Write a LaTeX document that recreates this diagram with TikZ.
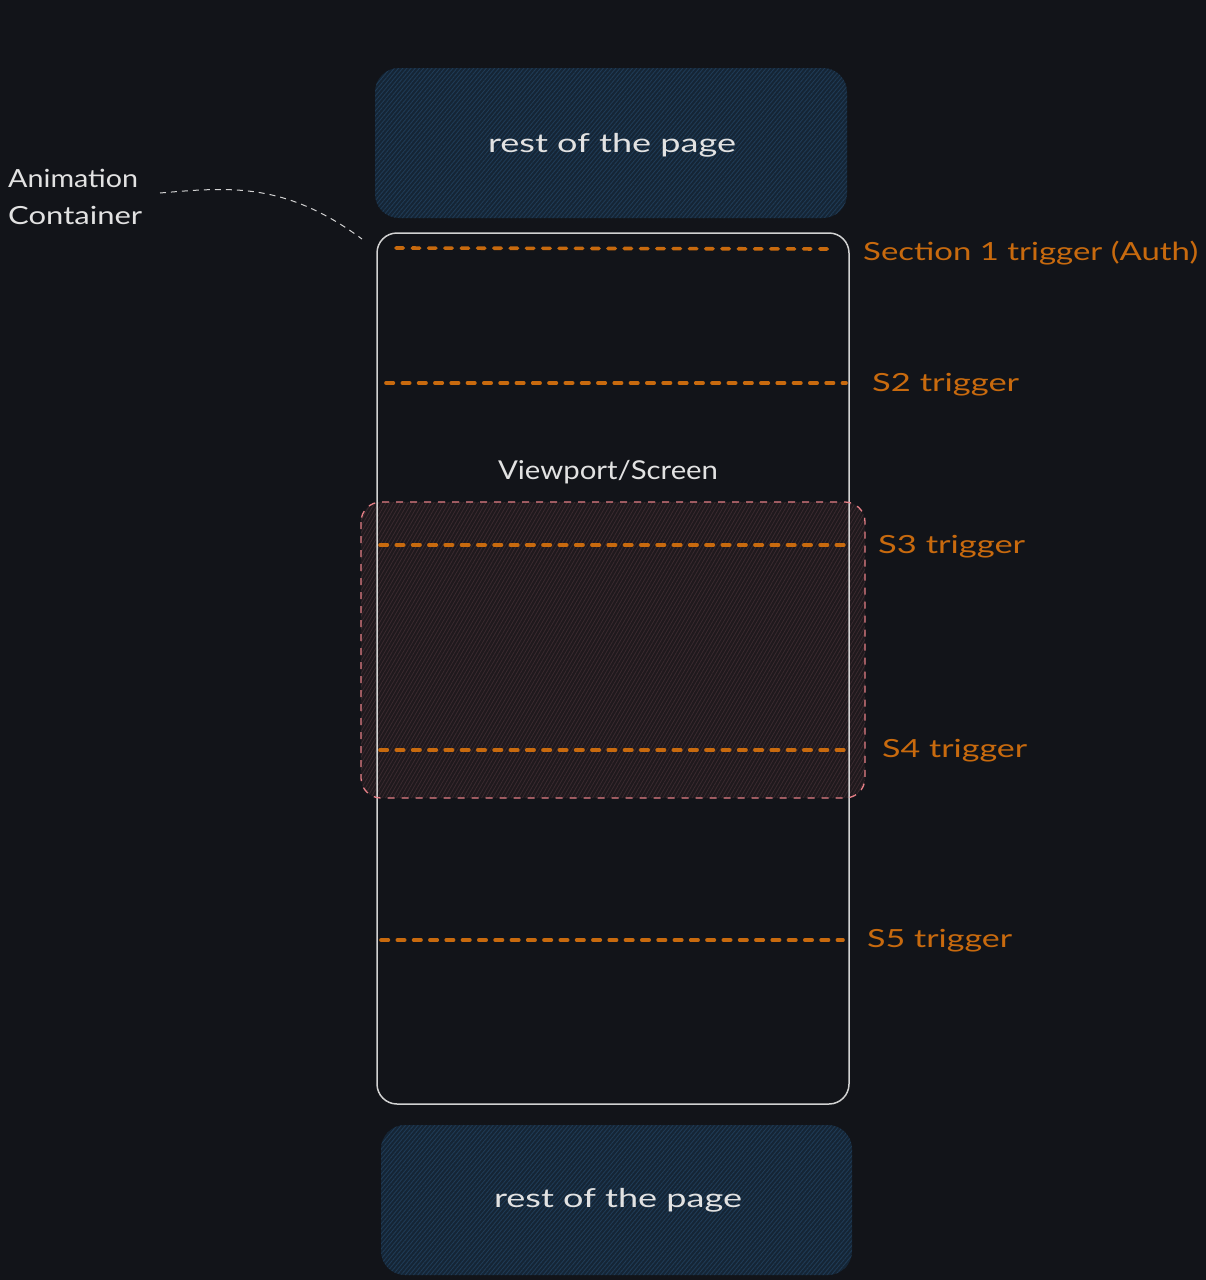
\documentclass[tikz,border=0pt]{standalone}
\usepackage{fontspec}
\setmainfont{Lato}
\usetikzlibrary{patterns.meta}
\definecolor{bg}{HTML}{121419}
\definecolor{bluefill}{HTML}{152535}
\definecolor{bluehatch}{HTML}{1F3B56}
\definecolor{redfill}{HTML}{1F191D}
\definecolor{redhatch}{HTML}{3A2A2F}
\definecolor{redline}{HTML}{E57F86}
\definecolor{orange}{HTML}{C86A0E}
\definecolor{ink}{HTML}{E2E2E2}
\definecolor{frame}{HTML}{D2D2D2}
\newcommand{\wtext}[2]{\resizebox{#1}{\height}{#2}}
\tikzset{
  pagebox/.style={draw=none, fill=bluefill, rounded corners=24pt,
    postaction={pattern={Lines[angle=50,distance=3.2pt,line width=0.9pt]}, pattern color=bluehatch}},
  viewfill/.style={draw=none, fill=redfill, rounded corners=20pt,
    postaction={pattern={Lines[angle=60,distance=3.2pt,line width=0.8pt]}, pattern color=redhatch}},
  viewedge/.style={draw=redline, line width=1.3pt, dash pattern=on 7pt off 7pt, rounded corners=20pt},
  container/.style={draw=frame, line width=1.5pt, rounded corners=20pt},
  trig/.style={draw=orange, line width=3.6pt, line cap=round, dash pattern=on 7.4pt off 8.9pt},
  triglabel/.style={text=orange, font=\fontsize{25}{30}\selectfont, anchor=west, inner sep=0pt},
  whitelabel/.style={text=ink, font=\fontsize{26}{31}\selectfont, inner sep=0pt},
  annot/.style={draw=frame, line width=1pt, dash pattern=on 6pt off 5pt}
}
\begin{document}
\begin{tikzpicture}[x=1pt,y=-1pt]
\fill[bg] (0,0) rectangle (1206,1280);
\useasboundingbox (0,0) rectangle (1206,1280);

% top rest of page
\path[pagebox] (375,68) rectangle (847,218);
\node[whitelabel] (top) at (612,145) {\wtext{248pt}{rest of the page}};

% viewport box
\path[viewfill] (361,502) rectangle (865,798);

% container
\draw[container] (377,233) rectangle (849,1104);
\coordinate (ctl) at (362,239);

\path[viewedge] (361,502) rectangle (865,798);

% bottom rest of page
\path[pagebox] (381,1125) rectangle (852,1275);
\node[whitelabel] (bot) at (618,1200) {\wtext{248pt}{rest of the page}};

% trigger lines
\coordinate (t1a) at (396,248); \coordinate (t1b) at (832,249);
\coordinate (t2a) at (386,383); \coordinate (t2b) at (846,383);
\coordinate (t3a) at (380,545); \coordinate (t3b) at (844,545);
\coordinate (t4a) at (380,750); \coordinate (t4b) at (844,750);
\coordinate (t5a) at (381,940); \coordinate (t5b) at (843,940);
\draw[trig] (t1a) -- (t1b);
\draw[trig] (t2a) -- (t2b);
\draw[trig] (t3a) -- (t3b);
\draw[trig] (t4a) -- (t4b);
\draw[trig] (t5a) -- (t5b);

\node[triglabel] (l1) at (863,253) {\wtext{335pt}{Section 1 trigger (Auth)}};
\node[triglabel] (l2) at (872,385) {\wtext{147pt}{S2 trigger}};
\node[triglabel] (l3) at (878,547) {\wtext{147pt}{S3 trigger}};
\node[triglabel] (l4) at (882,751) {\wtext{145pt}{S4 trigger}};
\node[triglabel] (l5) at (867,941) {\wtext{145pt}{S5 trigger}};

\node[whitelabel] (vp) at (608,472) {\wtext{220pt}{Viewport/Screen}};

% annotation
\node[whitelabel, anchor=north west, align=left, font=\fontsize{25}{37}\selectfont] (anno) at (8,169)
  {\wtext{130pt}{Animation}\\\wtext{134pt}{Container}};
\coordinate (astart) at (160,193);
\draw[annot] (astart) .. controls (230,187) and (285,182) .. (ctl);
\end{tikzpicture}
\end{document}
